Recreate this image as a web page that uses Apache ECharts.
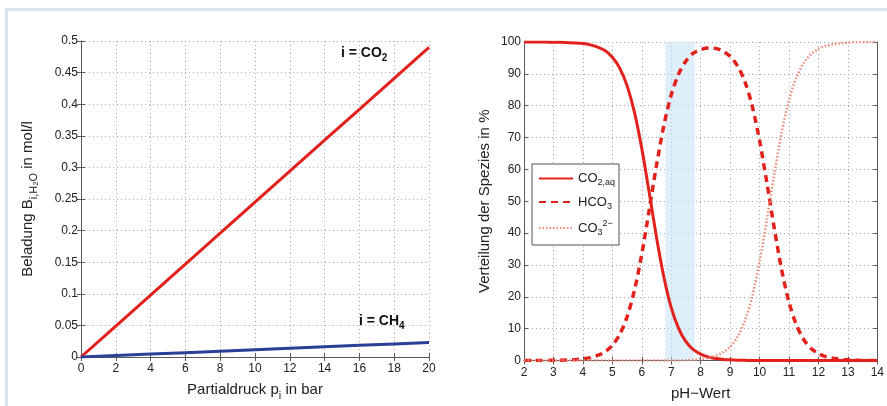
<!DOCTYPE html>
<html>
<head>
<meta charset="utf-8">
<script src="https://cdn.jsdelivr.net/npm/echarts@6/dist/echarts.min.js"></script>
<style>
html,body{margin:0;padding:0;background:#fff;}
#frame{position:absolute;left:5px;top:8px;width:900px;height:420px;border:3px solid #d9e3ea;box-sizing:border-box;}
#c{position:absolute;left:0;top:0;width:887px;height:406px;}
</style>
</head>
<body>
<div id="frame"></div>
<div id="c"></div>
<script>
// Left chart: loading vs partial pressure
const pressure = [0, 2, 4, 6, 8, 10, 12, 14, 16, 18, 20];
const loadCO2 = [0, 0.049, 0.098, 0.147, 0.196, 0.245, 0.294, 0.343, 0.392, 0.441, 0.49];
const loadCH4 = [0, 0.0023, 0.0046, 0.0069, 0.0092, 0.0115, 0.0138, 0.0161, 0.0184, 0.0207, 0.023];

// Right chart: species distribution vs pH
const pH = [2, 2.25, 2.5, 2.75, 3, 3.25, 3.5, 3.75, 4, 4.25, 4.5, 4.75, 5, 5.25, 5.5, 5.75,
  6, 6.25, 6.5, 6.75, 7, 7.25, 7.5, 7.75, 8, 8.25, 8.5, 8.75, 9, 9.25, 9.5, 9.75,
  10, 10.25, 10.5, 10.75, 11, 11.25, 11.5, 11.75, 12, 12.25, 12.5, 12.75, 13, 13.25, 13.5, 13.75, 14];
const shareCO2aq = [100, 100, 100, 100, 99.9, 99.9, 99.8, 99.7, 99.5, 99.1, 98.4, 97.3, 95.2, 91.8, 86.3, 78.0,
  66.6, 52.9, 38.7, 26.2, 16.6, 10.1, 5.9, 3.4, 2.0, 1.1, 0.6, 0.35, 0.2, 0.1, 0.05, 0,
  0, 0, 0, 0, 0, 0, 0, 0, 0, 0, 0, 0, 0, 0, 0, 0, 0];
const shareHCO3 = [0, 0, 0, 0, 0.1, 0.1, 0.2, 0.3, 0.5, 0.9, 1.6, 2.7, 4.8, 8.2, 13.7, 22.0,
  33.4, 47.1, 61.3, 73.8, 83.4, 89.9, 94.0, 96.5, 97.6, 98.1, 98.0, 97.15, 95.5, 92.5, 87.6, 79.9,
  69.1, 55.7, 41.5, 28.5, 18.3, 11.2, 6.6, 3.8, 2.2, 1.2, 0.7, 0.4, 0.2, 0.1, 0, 0, 0];
const shareCO3 = [0, 0, 0, 0, 0, 0, 0, 0, 0, 0, 0, 0, 0, 0, 0, 0,
  0, 0, 0, 0, 0, 0, 0.1, 0.2, 0.4, 0.8, 1.4, 2.5, 4.3, 7.4, 12.4, 20.1,
  30.9, 44.3, 58.5, 71.5, 81.7, 88.8, 93.4, 96.2, 97.8, 98.8, 99.3, 99.6, 99.8, 99.9, 100, 100, 100];
const bufferRange = [6.8, 7.8];

const xTicksLeft = {min: 0, max: 20, interval: 2};
const yTicksLeft = {min: 0, max: 0.5, interval: 0.05};
const xTicksRight = {min: 2, max: 14, interval: 1};
const yTicksRight = {min: 0, max: 100, interval: 10};

const FONT = 'Liberation Sans, Arial, sans-serif';
const axisLineStyle = {show: true, lineStyle: {color: '#5a5a5a', width: 1}};
const tickStyle = {show: true, inside: true, length: 4, lineStyle: {color: '#5a5a5a'}};
const gridLine = {show: true, lineStyle: {type: [1, 3], color: '#a8a8a8', width: 1}};
const labelStyle = {color: '#222', fontSize: 12, fontFamily: FONT};
const subRich = {
  m: {fontSize: 15, fontFamily: FONT, color: '#222', lineHeight: 22},
  s: {fontSize: 11, fontFamily: FONT, color: '#222', lineHeight: 11, verticalAlign: 'bottom'}
};

function mkX(grid, ticks, name, showLabel, pos) {
  return Object.assign({
    type: 'value', gridIndex: grid, position: pos,
    axisLine: axisLineStyle, axisTick: tickStyle,
    splitLine: showLabel ? gridLine : {show: false},
    axisLabel: showLabel ? Object.assign({margin: 6, formatter: v => String(+v.toFixed(2))}, labelStyle) : {show: false},
    name: showLabel ? name : '', nameLocation: 'middle', nameGap: 22,
    nameTextStyle: {fontSize: 15, fontFamily: FONT, color: '#222', rich: subRich}
  }, ticks);
}
function mkY(grid, ticks, name, showLabel, pos, gap) {
  return Object.assign({
    type: 'value', gridIndex: grid, position: pos,
    axisLine: axisLineStyle, axisTick: tickStyle,
    splitLine: showLabel ? gridLine : {show: false},
    axisLabel: showLabel ? Object.assign({margin: 3, formatter: v => String(+v.toFixed(2))}, labelStyle) : {show: false},
    name: showLabel ? name : '', nameLocation: 'middle', nameGap: gap, nameRotate: 90,
    nameTextStyle: {fontSize: 15, fontFamily: FONT, color: '#222', rich: subRich}
  }, ticks);
}

const chart = echarts.init(document.getElementById('c'), null, {renderer: 'canvas'});
const pairs = (xs, ys) => xs.map((x, i) => [x, ys[i]]);
const annRich = {
  b: {fontSize: 14, fontWeight: 'bold', fontFamily: FONT, fill: '#111', lineHeight: 20},
  s: {fontSize: 10, fontWeight: 'bold', fontFamily: FONT, fill: '#111', lineHeight: 8, verticalAlign: 'bottom'}
};

chart.setOption({
  backgroundColor: 'transparent',
  animation: false,
  grid: [
    {left: 81, top: 41, width: 348, height: 326},
    {left: 524, top: 42, width: 356, height: 326}
  ],
  xAxis: [
    mkX(0, xTicksLeft, '{m|Partialdruck p}{s|i}{m| in bar}', true, 'bottom'),
    mkX(0, xTicksLeft, '', false, 'top'),
    mkX(1, xTicksRight, '{m|pH−Wert}', true, 'bottom'),
    mkX(1, xTicksRight, '', false, 'top')
  ],
  yAxis: [
    mkY(0, yTicksLeft, '{m|Beladung B}{s|i,H₂O}{m| in mol/l}', true, 'left', 42),
    mkY(0, yTicksLeft, '', false, 'right', 0),
    mkY(1, yTicksRight, '{m|Verteilung der Spezies in %}', true, 'left', 28),
    mkY(1, yTicksRight, '', false, 'right', 0)
  ],
  legend: {
    show: true,
    data: ['CO2aq', 'HCO3', 'CO3'],
    orient: 'vertical',
    left: 532, top: 164,
    backgroundColor: '#fff',
    borderColor: '#555', borderWidth: 1, borderRadius: 0,
    padding: [8, 4, 8, 6],
    itemGap: 8,
    itemWidth: 34, itemHeight: 14,
    itemStyle: {opacity: 0},
    formatter: function (n) {
      if (n === 'CO2aq') return '{m|CO}{s|2,aq}';
      if (n === 'HCO3') return '{m|HCO}{s|3}';
      return '{m|CO}{s|3}{p|2−}';
    },
    textStyle: {
      rich: {
        m: {fontSize: 13, fontFamily: FONT, color: '#222', lineHeight: 18},
        s: {fontSize: 9, fontFamily: FONT, color: '#222', lineHeight: 8, verticalAlign: 'bottom'},
        p: {fontSize: 9, fontFamily: FONT, color: '#222', lineHeight: 8, verticalAlign: 'top'}
      }
    }
  },
  graphic: [
    {type: 'text', left: 341, top: 46, style: {text: '{b|i = CO}{s|2}', rich: annRich}},
    {type: 'text', left: 359, top: 314, style: {text: '{b|i = CH}{s|4}', rich: annRich}}
  ],
  series: [
    {name: 'Beladung CO2', type: 'line', xAxisIndex: 0, yAxisIndex: 0, data: pairs(pressure, loadCO2),
      showSymbol: false, symbol: 'none', lineStyle: {color: '#e3211c', width: 3}, z: 3},
    {name: 'Beladung CH4', type: 'line', xAxisIndex: 0, yAxisIndex: 0, data: pairs(pressure, loadCH4),
      showSymbol: false, symbol: 'none', lineStyle: {color: '#2b3f97', width: 3}, z: 3},
    {name: 'CO2aq', type: 'line', xAxisIndex: 2, yAxisIndex: 2, data: pairs(pH, shareCO2aq),
      smooth: 0.3, showSymbol: false, symbol: 'none', color: '#e3211c', lineStyle: {color: '#e3211c', width: 3}, z: 2},
    {name: 'band', type: 'line', xAxisIndex: 2, yAxisIndex: 2, data: [], z: 3,
      markArea: {silent: true, itemStyle: {color: 'rgba(196,226,245,0.55)'},
        data: [[{xAxis: bufferRange[0]}, {xAxis: bufferRange[1]}]]}},
    {name: 'HCO3', type: 'line', xAxisIndex: 2, yAxisIndex: 2, data: pairs(pH, shareHCO3),
      smooth: 0.3, showSymbol: false, symbol: 'none', color: '#e3211c', lineStyle: {color: '#e3211c', width: 3.5, type: [7, 5]}, z: 4},
    {name: 'CO3', type: 'line', xAxisIndex: 2, yAxisIndex: 2, data: pairs(pH, shareCO3),
      smooth: 0.3, showSymbol: false, symbol: 'none', color: '#ee8a78', lineStyle: {color: '#ee8a78', width: 2.5, type: [1.5, 2]}, z: 4}
  ]
});
</script>
</body>
</html>
